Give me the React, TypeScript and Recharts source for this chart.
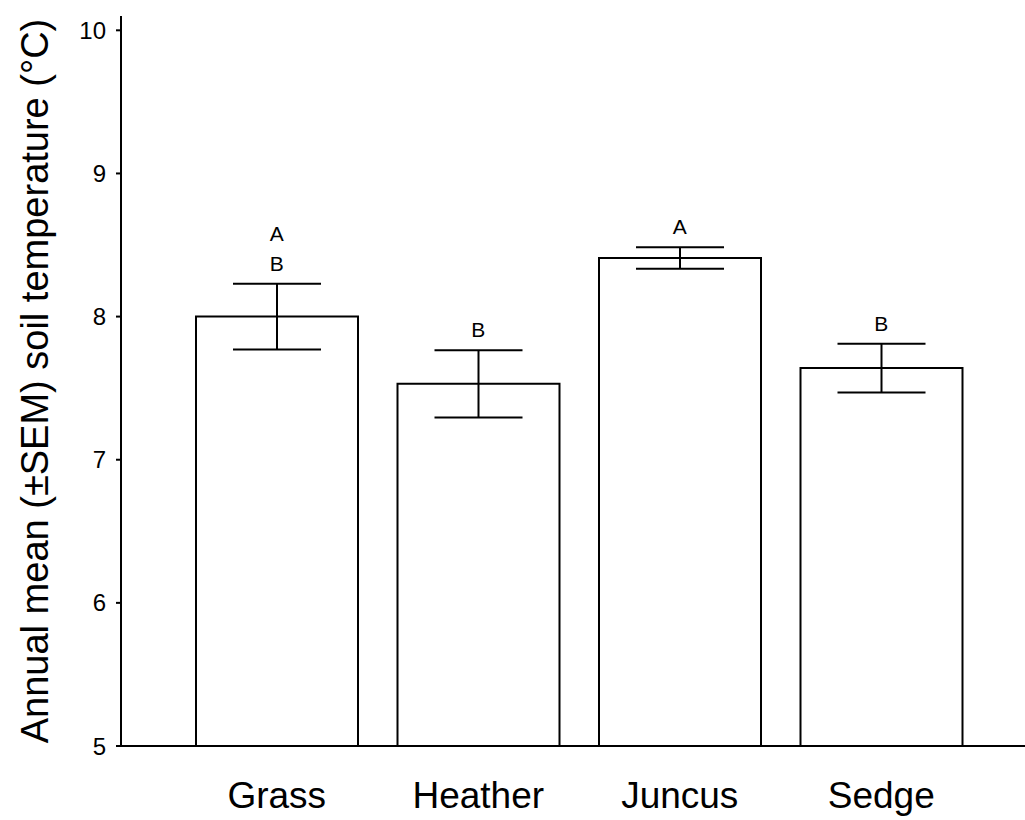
import { ComposedChart, Bar, Line, XAxis, YAxis, ErrorBar, LabelList } from "recharts";

const habitats = ["Grass", "Heather", "Juncus", "Sedge"];
const meanTemp = [8.0, 7.53, 8.41, 7.64];
const semTemp = [0.23, 0.235, 0.075, 0.17];
const groupLetters = [["A", "B"], ["B"], ["A"], ["B"]];
const yTicks = [5, 6, 7, 8, 9, 10];

const data = habitats.map((name, i) => ({
  name,
  mean: meanTemp[i],
  sem: semTemp[i],
  top: meanTemp[i] + semTemp[i],
  letters: groupLetters[i],
}));

const FONT = "'Liberation Sans', Arial, Helvetica, sans-serif";

const LetterLabel = (props: any) => {
  const { x, y, index } = props;
  const letters: string[] = data[index].letters;
  const n = letters.length;
  return (
    <g>
      {letters.map((l, k) => (
        <text
          key={k}
          x={x}
          y={y - 13 - (n - 1 - k) * 30}
          textAnchor="middle"
          fontSize={21}
          fontFamily={FONT}
          fill="#000"
        >
          {l}
        </text>
      ))}
    </g>
  );
};

const YLabel = () => (
  <text
    x={35}
    y={381}
    transform="rotate(-90, 35, 381)"
    textAnchor="middle"
    dominantBaseline="central"
    fontSize={38}
    fontFamily={FONT}
    fill="#000"
  >
    Annual mean (±SEM) soil temperature (°C)
  </text>
);

export default function App() {
  return (
    <div style={{ position: "absolute", left: 0, top: 0, background: "#fff" }}>
      <ComposedChart
        width={1025}
        height={820}
        data={data}
        margin={{ top: 16, right: 0, bottom: 0, left: 0 }}
        barCategoryGap={20}
      >
        <XAxis
          dataKey="name"
          height={74}
          padding={{ left: 55, right: 43 }}
          tickLine={false}
          tickSize={0}
          tickMargin={36}
          axisLine={{ stroke: "#000", strokeWidth: 2 }}
          tick={{ fill: "#000", fontSize: 37, fontFamily: FONT }}
        />
        <YAxis
          width={121}
          domain={[5, 10.1]}
          ticks={yTicks}
          allowDataOverflow
          tickSize={5}
          tickMargin={10}
          axisLine={{ stroke: "#000", strokeWidth: 2 }}
          tickLine={{ stroke: "#000", strokeWidth: 2 }}
          tick={{ fill: "#000", fontSize: 24, fontFamily: FONT }}
          label={<YLabel />}
        />
        <Bar dataKey="mean" fill="#fff" stroke="#000" strokeWidth={2} isAnimationActive={false}>
          <ErrorBar dataKey="sem" width={44} stroke="#000" strokeWidth={2} />
        </Bar>
        <Line
          dataKey="top"
          stroke="none"
          dot={false}
          activeDot={false}
          legendType="none"
          isAnimationActive={false}
        >
          <LabelList dataKey="top" content={<LetterLabel />} />
        </Line>
      </ComposedChart>
    </div>
  );
}
